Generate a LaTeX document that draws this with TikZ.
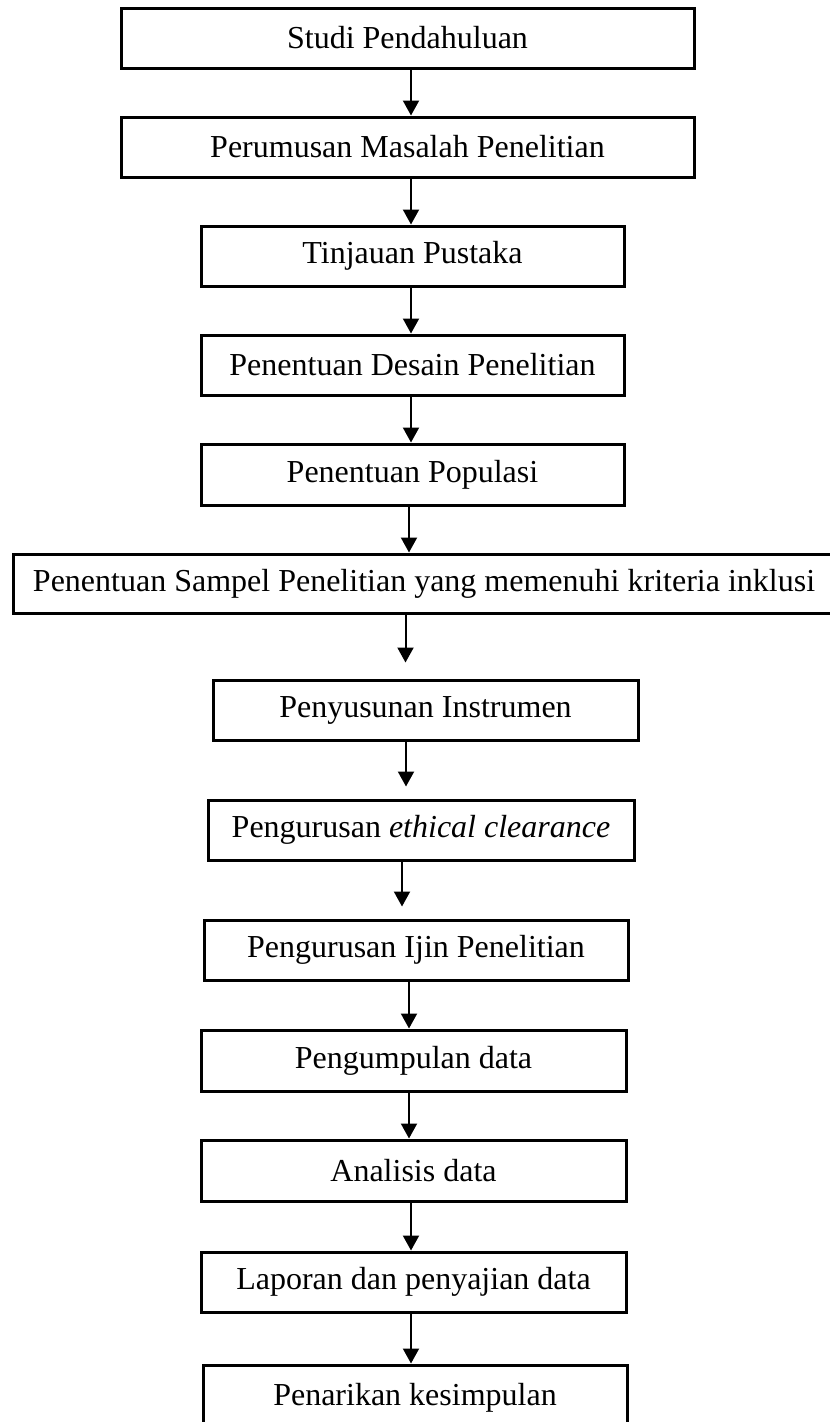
\documentclass[tikz,border=0pt]{standalone}
\usepackage{fontspec}
\setmainfont{Liberation Serif}
\usetikzlibrary{arrows.meta}
\tikzset{
  stepbox/.style={draw=black, line width=3pt, rectangle, inner sep=0pt, align=center,
    font=\fontsize{32}{38}\selectfont},
  arr/.style={line width=2pt, -{Triangle[length=15pt,width=16pt]}},
}
\begin{document}
\begin{tikzpicture}[x=1pt,y=-1pt]
\clip (0,0) rectangle (830,1422);
\fill[white] (0,0) rectangle (830,1422);
\node[stepbox, minimum width=573pt, minimum height=60pt] (b1) at (407.5,38) {Studi Pendahuluan};
\node[stepbox, minimum width=573pt, minimum height=60pt] (b2) at (407.5,147) {Perumusan Masalah Penelitian};
\node[stepbox, minimum width=423pt, minimum height=60pt] (b3) at (412.5,256) {Tinjauan Pustaka};
\node[stepbox, minimum width=423pt, minimum height=60pt] (b4) at (412.5,365) {Penentuan Desain Penelitian};
\node[stepbox, minimum width=423pt, minimum height=61pt] (b5) at (412.5,474.5) {Penentuan Populasi};
\node[stepbox, minimum width=822pt, minimum height=59pt] (b6) at (424,583.5) {Penentuan Sampel Penelitian yang memenuhi kriteria inklusi};
\node[stepbox, minimum width=425pt, minimum height=60pt] (b7) at (425.5,710) {Penyusunan Instrumen};
\node[stepbox, minimum width=426pt, minimum height=60pt] (b8) at (421,830) {Pengurusan \textit{ethical clearance}};
\node[stepbox, minimum width=424pt, minimum height=60pt] (b9) at (416,950) {Pengurusan Ijin Penelitian};
\node[stepbox, minimum width=425pt, minimum height=61pt] (b10) at (413.5,1060.5) {Pengumpulan data};
\node[stepbox, minimum width=425pt, minimum height=61pt] (b11) at (413.5,1170.5) {Analisis data};
\node[stepbox, minimum width=425pt, minimum height=60pt] (b12) at (413.5,1282) {Laporan dan penyajian data};
\node[stepbox, minimum width=424pt, minimum height=66pt] (b13) at (415,1398) {Penarikan kesimpulan};
\coordinate (xa) at (411,0);
\coordinate (xb) at (409,0);
\coordinate (xc) at (405.5,0);
\coordinate (xd) at (406,0);
\coordinate (xe) at (402,0);
\draw[arr] (b1.south -| xa) -- (b2.north -| xa);
\draw[arr] (b2.south -| xa) -- (b3.north -| xa);
\draw[arr] (b3.south -| xa) -- (b4.north -| xa);
\draw[arr] (b4.south -| xa) -- (b5.north -| xa);
\draw[arr] (b5.south -| xb) -- (b6.north -| xb);
\draw[arr, shorten >=16pt] (b6.south -| xc) -- (b7.north -| xc);
\draw[arr, shorten >=12pt] (b7.south -| xd) -- (b8.north -| xd);
\draw[arr, shorten >=12pt] (b8.south -| xe) -- (b9.north -| xe);
\draw[arr] (b9.south -| xb) -- (b10.north -| xb);
\draw[arr] (b10.south -| xb) -- (b11.north -| xb);
\draw[arr] (b11.south -| xa) -- (b12.north -| xa);
\draw[arr] (b12.south -| xa) -- (b13.north -| xa);
\end{tikzpicture}
\end{document}
